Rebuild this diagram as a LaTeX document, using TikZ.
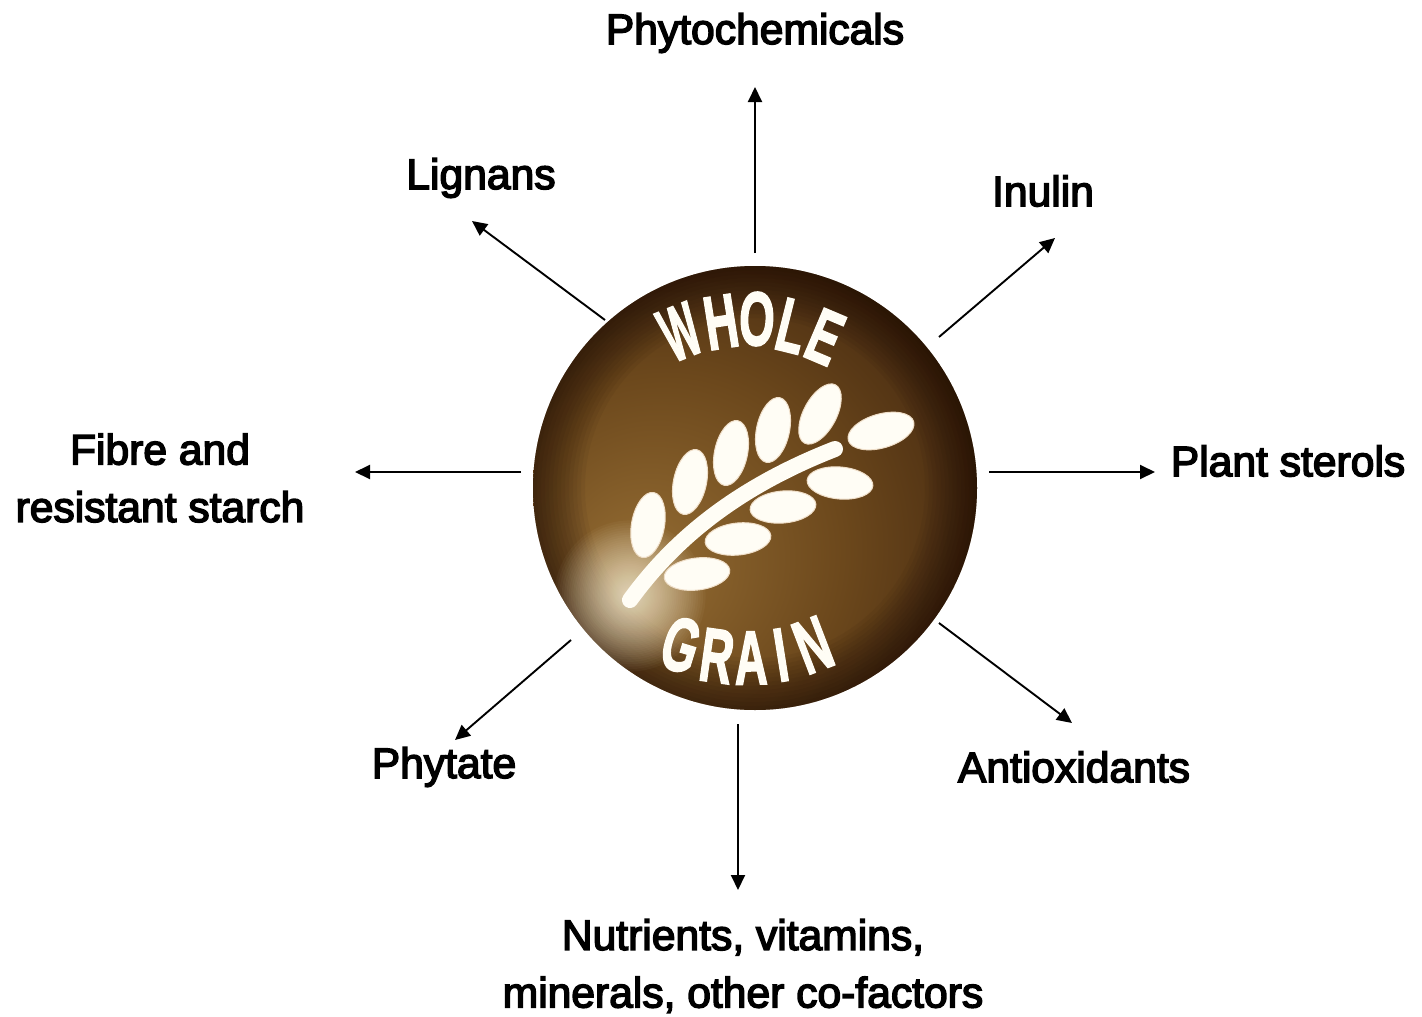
\documentclass[tikz,border=0pt]{standalone}
\usepackage{fontspec}
\setmainfont{Liberation Sans}
\newfontfamily\lab[FakeBold=3.5]{Liberation Sans}
\newfontfamily\badge[FakeBold=2.5]{Liberation Sans Bold}
\usetikzlibrary{arrows.meta}
\definecolor{dA}{RGB}{150,110,52}
\definecolor{dB}{RGB}{108,72,28}
\definecolor{dC}{RGB}{58,32,12}
\definecolor{dD}{RGB}{24,8,4}
\definecolor{grainw}{RGB}{255,253,245}
\definecolor{glow}{RGB}{255,246,220}
\definecolor{rim}{RGB}{20,6,3}
\pgfdeclareradialshading{diskshade}{\pgfpoint{-14bp}{-10bp}}{
 color(0bp)=(dA); color(20bp)=(dB); color(40bp)=(dC); color(56bp)=(dD); color(72bp)=(dD)}
\tikzset{
 x=1pt,y=-1pt,
 lbl/.style={font=\lab\fontsize{42.6}{57.5}\selectfont,text=black,align=center,inner sep=0pt},
 arr/.style={draw=black,line width=1.9pt,-{Triangle[length=15pt,width=14pt]}},
 seed/.style={fill=grainw,draw=grainw!75!brown,line width=1pt},
 letter/.style={font=\badge\fontsize{76}{76}\selectfont,text=grainw,inner sep=0pt}
}
\newcommand{\seedat}[5]{\path[seed,rotate around={#5:(#1,#2)}] (#1,#2) ellipse[x radius=#3pt,y radius=#4pt];}
\begin{document}
\begin{tikzpicture}
\useasboundingbox (0,0) rectangle (1422,1017);
% disk
\node[circle,minimum size=444pt,inner sep=0pt,shading=diskshade] (disk) at (755,488) {};
\begin{scope}
\clip (755,488) circle[radius=222pt];
\foreach \r in {222,218,...,170}{\draw[rim,opacity=0.05,line width=52pt] (755,488) circle[radius=\r pt+26pt];}
\foreach \i in {1,...,60}{\fill[glow,opacity=0.035] (630,596) circle[radius={0.021*\i*\i*1pt}];}
\end{scope}
% seeds
\seedat{648}{525}{33}{16.5}{80}
\seedat{690}{482}{33}{16.5}{78}
\seedat{731}{453}{33}{16.5}{78}
\seedat{773}{430}{33}{16.5}{78}
\seedat{820}{414}{33}{16.5}{62}
\seedat{881}{431}{34}{17}{16}
\seedat{840}{483}{33}{16}{-5}
\seedat{783}{507}{33}{16}{5}
\seedat{738}{539}{33}{16}{6}
\seedat{697}{574}{33}{16}{7}
% stem
\draw[grainw,line width=16pt,line cap=round] (630,600) .. controls (670,545) and (730,490) .. (835,449);
% badge lettering
\foreach \c/\x/\y/\a/\s [count=\i] in {W/680/332/22/0.5,H/721/322/9/0.6,O/757/319/-2/0.6,L/792/326/-14/0.6,E/825/337/-23/0.6}{
 \node[letter,rotate=\a,xscale=\s] (w\i) at (\x,\y) {\c};}
\foreach \c/\x/\y/\a/\s [count=\i] in {G/681/645/-17/0.6,R/717/656/-8/0.6,A/751/658/1/0.6,I/781/655/9/0.6,N/813/645/21/0.6}{
 \node[letter,rotate=\a,xscale=\s] (g\i) at (\x,\y) {\c};}
% labels
\node[lbl] (phyto) at (755,33) {Phytochemicals};
\node[lbl] (lig) at (481,178) {Lignans};
\node[lbl] (inu) at (1043,191) {Inulin};
\node[lbl] (ster) at (1288,461) {Plant sterols};
\node[lbl] (fib) at (160,478) {Fibre and\\resistant starch};
\node[lbl] (anti) at (1074,767) {Antioxidants};
\node[lbl] (phyt) at (444,767) {Phytate};
\node[lbl] (nut) at (743,966) {Nutrients, vitamins,\\minerals, other co-factors};
% connector ends
\coordinate (a1) at (755,253); \coordinate (b1) at (755,87);
\coordinate (a2) at (605,320); \coordinate (b2) at (472,221);
\coordinate (a3) at (939,337); \coordinate (b3) at (1055,238);
\coordinate (a4) at (989,472); \coordinate (b4) at (1155,472);
\coordinate (a5) at (939,623); \coordinate (b5) at (1072,723);
\coordinate (a6) at (738,724); \coordinate (b6) at (738,890);
\coordinate (a7) at (571,640); \coordinate (b7) at (455,740);
\coordinate (a8) at (521,472); \coordinate (b8) at (355,472);
\foreach \i in {1,...,8}{\draw[arr] (a\i) -- (b\i);}
\end{tikzpicture}
\end{document}
